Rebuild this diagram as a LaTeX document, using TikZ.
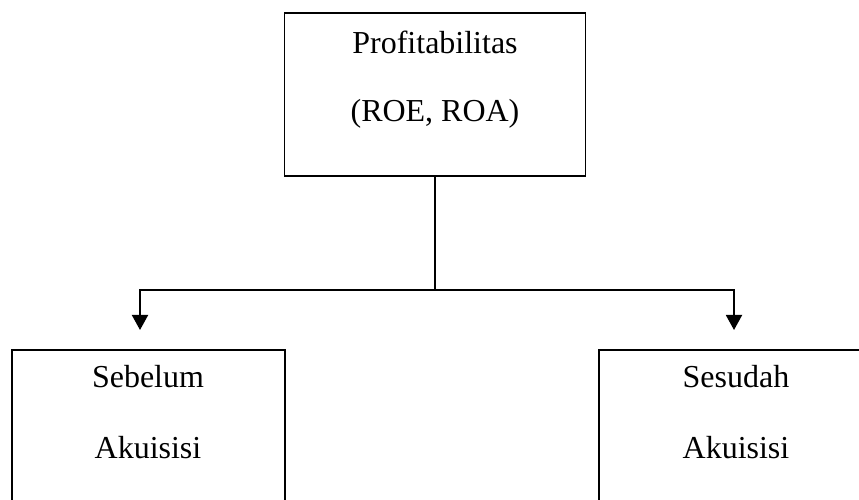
\documentclass[tikz,border=0pt]{standalone}
\usepackage{fontspec}
\setmainfont{Liberation Serif}
\usepackage{tikz}
\usetikzlibrary{arrows.meta, positioning}

\begin{document}
\begin{tikzpicture}[
    box/.style={draw, line width=1.1pt, inner sep=0pt},
    label/.style={anchor=base, font=\fontsize{18.2}{22}\selectfont},
    link/.style={line width=1.1pt},
    arr/.style={line width=1.1pt, -{Triangle[length=0.3cm, width=0.32cm]}}
  ]
    % Frame
    \useasboundingbox (0,0) rectangle (17.18,-10);
    \clip (0,0) rectangle (17.18,-10);

    % Top box
    \node[box, minimum width=6.02cm, minimum height=3.26cm] (profit) at (8.7,-1.89) {};
    \node[label] (profittext) at (8.7,-1.08) {Profitabilitas};
    \node[label] (ratio) at (8.7,-2.44) {(ROE, ROA)};

    % Bottom boxes
    \node[box, minimum width=5.46cm, minimum height=3.6cm] (before) at (2.97,-8.8) {};
    \node[label] (beforetext) at (2.96,-7.76) {Sebelum};
    \node[label] (beforeacq) at (2.96,-9.16) {Akuisisi};

    \node[box, minimum width=5.48cm, minimum height=3.6cm] (after) at (14.72,-8.8) {};
    \node[label] (aftertext) at (14.72,-7.76) {Sesudah};
    \node[label] (afteracq) at (14.72,-9.16) {Akuisisi};

    % Connectors
    \coordinate (split) at (8.7,-5.8);
    \coordinate (lefttip) at (2.8,-6.6);
    \coordinate (righttip) at (14.68,-6.6);
    \draw[link] (profit.south) -- (split);
    \draw[arr] (split) -| (lefttip);
    \draw[arr] (split) -| (righttip);
\end{tikzpicture}
\end{document}
